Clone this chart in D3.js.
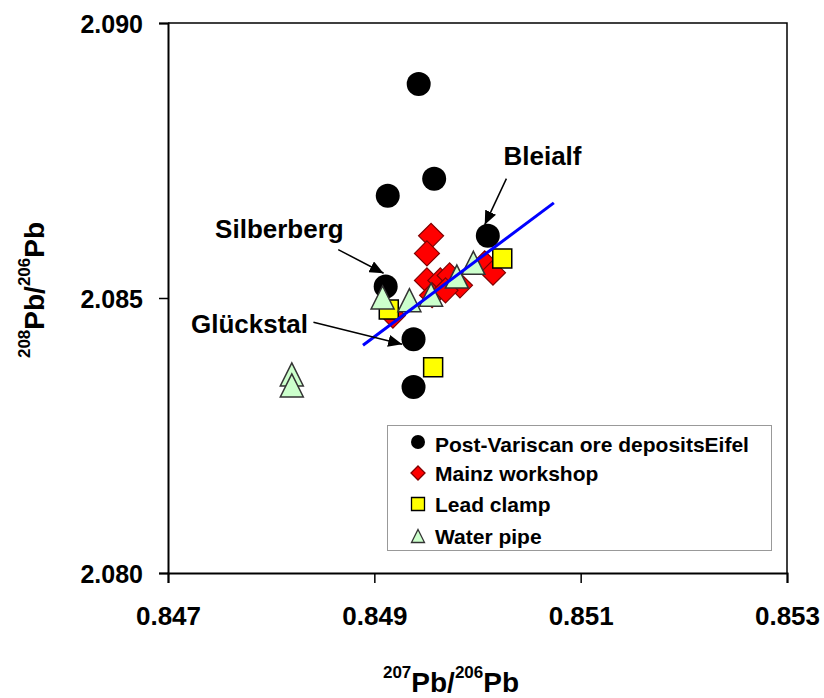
<!DOCTYPE html>
<html>
<head>
<meta charset="utf-8">
<script src="https://cdn.jsdelivr.net/npm/d3@7"></script>
<style>
	body { margin: 0; background: #fff; }
	svg { display: block; font-family: "Liberation Sans", Arial, sans-serif; font-weight: bold; }
</style>
</head>
<body>
<div id="vis"></div>
<script>
const WIDTH = 824;
const HEIGHT = 698;

// axis ticks
const xTicks = [0.847, 0.849, 0.851, 0.853];
const yTicks = [2.080, 2.085, 2.090];

// 207Pb/206Pb and 208Pb/206Pb
const oreX = [0.84943, 0.84913, 0.84958, 0.85010, 0.84911, 0.84938, 0.84938];
const oreY = [2.08889, 2.08686, 2.08717, 2.08613, 2.08521, 2.08425, 2.08338];

const mainzX = [0.84955, 0.84951, 0.84951, 0.84964, 0.84973, 0.84983, 0.85007, 0.85015, 0.84956, 0.84918, 0.84969];
const mainzY = [2.08613, 2.08581, 2.08532, 2.08532, 2.08541, 2.08523, 2.08563, 2.08546, 2.08505, 2.08468, 2.08514];

const clampX = [0.85024, 0.84914, 0.84957];
const clampY = [2.08572, 2.08479, 2.08374];

const pipeX = [0.84908, 0.84934, 0.84955, 0.84980, 0.84996, 0.84820, 0.84820];
const pipeY = [2.08501, 2.08496, 2.08506, 2.08539, 2.08564, 2.08361, 2.08341];

// regression line end points
const lineX = [0.84889, 0.85074];
const lineY = [2.08414, 2.08673];

// labelled deposits: text position and arrow (from -> to)
const labelNames = ["Silberberg", "Glückstal", "Bleialf"];
const labelX = [0.84808, 0.84779, 0.85063];
const labelY = [2.08610, 2.08437, 2.08741];
const arrowX1 = [0.84865, 0.84841, 0.85028];
const arrowY1 = [2.08588, 2.08456, 2.08717];
const arrowX2 = [0.84909, 0.84927, 0.85007];
const arrowY2 = [2.08545, 2.08416, 2.08633];

const seriesNames = ["Post-Variscan ore depositsEifel", "Mainz workshop", "Lead clamp", "Water pipe"];

const x = d3.scaleLinear().domain([0.847, 0.853]).range([168, 787]);
const y = d3.scaleLinear().domain([2.080, 2.090]).range([573, 23]);

const svg = d3.select('#vis').append('svg')
	.attr('width', WIDTH)
	.attr('height', HEIGHT);

// marker shapes, s = overall size
function shapePath(kind, s) {
	const h = s / 2;
	if (kind === 'diamond') return `M0,${-h}L${h},0L0,${h}L${-h},0Z`;
	if (kind === 'square') return `M${-h},${-h}H${h}V${h}H${-h}Z`;
	if (kind === 'triangle') return `M0,${-h}L${h},${h}L${-h},${h}Z`;
	return '';
}

// frame (top and right)
svg.append('path')
	.attr('d', `M${x(0.847)},${y(2.090)}H${x(0.853)}V${y(2.080)}`)
	.attr('fill', 'none')
	.attr('stroke', '#000')
	.attr('stroke-width', 1.5);

// axes
const xAxis = svg.append('g')
	.attr('transform', `translate(0,${y(2.080)})`)
	.call(d3.axisBottom(x).tickValues(xTicks).tickSize(10).tickFormat(d3.format('.3f')));
const yAxis = svg.append('g')
	.attr('transform', `translate(${x(0.847)},0)`)
	.call(d3.axisLeft(y).tickValues(yTicks).tickSize(9).tickFormat(d3.format('.3f')));

[xAxis, yAxis].forEach(a => {
	a.select('.domain').attr('stroke', '#000').attr('stroke-width', 2);
	a.selectAll('.tick line').attr('stroke', '#000').attr('stroke-width', 1.5);
	a.selectAll('.tick text')
		.attr('fill', '#000')
		.style('font-family', '"Liberation Sans", Arial, sans-serif')
		.style('font-weight', 'bold');
});
xAxis.selectAll('.tick text').style('font-size', '26px').attr('y', 34).attr('dy', '0.71em');
yAxis.selectAll('.tick text').style('font-size', '25px').attr('x', -25).attr('dy', '0.36em');

// axis titles
const xt = svg.append('text')
	.attr('x', 451).attr('y', 692)
	.attr('text-anchor', 'middle')
	.style('font-size', '28px');
xt.append('tspan').text('207').style('font-size', '17px').attr('dy', -14);
xt.append('tspan').text('Pb/').attr('dy', 14);
xt.append('tspan').text('206').style('font-size', '17px').attr('dy', -14);
xt.append('tspan').text('Pb').attr('dy', 14);

const yt = svg.append('text')
	.attr('transform', 'translate(44,290) rotate(-90)')
	.attr('text-anchor', 'middle')
	.style('font-size', '28px');
yt.append('tspan').text('208').style('font-size', '17px').attr('dy', -14);
yt.append('tspan').text('Pb/').attr('dy', 14);
yt.append('tspan').text('206').style('font-size', '17px').attr('dy', -14);
yt.append('tspan').text('Pb').attr('dy', 14);

// data points, drawn circles first, triangles last
const ore = oreX.map((v, i) => ({ x: v, y: oreY[i] }));
const mainz = mainzX.map((v, i) => ({ x: v, y: mainzY[i] }));
const clamp = clampX.map((v, i) => ({ x: v, y: clampY[i] }));
const pipe = pipeX.map((v, i) => ({ x: v, y: pipeY[i] }));

svg.append('g').selectAll('circle')
	.data(ore)
	.enter()
	.append('circle')
	.attr('cx', d => x(d.x))
	.attr('cy', d => y(d.y))
	.attr('r', 12)
	.attr('fill', '#000');

function drawShapes(data, kind, size, fill, stroke, sw) {
	svg.append('g').selectAll('path')
		.data(data)
		.enter()
		.append('path')
		.attr('transform', d => `translate(${x(d.x)},${y(d.y)})`)
		.attr('d', shapePath(kind, size))
		.attr('fill', fill)
		.attr('stroke', stroke)
		.attr('stroke-width', sw)
		.attr('stroke-linejoin', 'miter');
}
drawShapes(mainz, 'diamond', 25, '#ff0000', '#800000', 1.2);
drawShapes(clamp, 'square', 19, '#ffff00', '#000', 1.5);
drawShapes(pipe, 'triangle', 23, '#ccffcc', '#333', 1.5);

// blue regression line
svg.append('line')
	.attr('x1', x(lineX[0])).attr('y1', y(lineY[0]))
	.attr('x2', x(lineX[1])).attr('y2', y(lineY[1]))
	.attr('stroke', '#0000ff')
	.attr('stroke-width', 3);

// annotations
svg.append('defs').append('marker')
	.attr('id', 'head')
	.attr('viewBox', '0 0 14 12')
	.attr('refX', 14).attr('refY', 6)
	.attr('markerWidth', 14).attr('markerHeight', 12)
	.attr('markerUnits', 'userSpaceOnUse')
	.attr('orient', 'auto')
	.append('path')
	.attr('d', 'M0,0L14,6L0,12Z')
	.attr('fill', '#000');

labelNames.forEach((name, i) => {
	svg.append('text')
		.attr('x', x(labelX[i]))
		.attr('y', y(labelY[i]))
		.attr('text-anchor', 'middle')
		.style('font-size', '26px')
		.text(name);
	svg.append('line')
		.attr('x1', x(arrowX1[i])).attr('y1', y(arrowY1[i]))
		.attr('x2', x(arrowX2[i])).attr('y2', y(arrowY2[i]))
		.attr('stroke', '#000')
		.attr('stroke-width', 1.5)
		.attr('marker-end', 'url(#head)');
});

// legend
const legend = svg.append('g');
legend.append('rect')
	.attr('x', 387.5).attr('y', 425.5)
	.attr('width', 384).attr('height', 125)
	.attr('fill', '#fff')
	.attr('stroke', '#999')
	.attr('stroke-width', 1);

const rowY = [444, 473, 504, 536];
const legendMarks = [
	{ kind: 'circle', fill: '#000', stroke: 'none' },
	{ kind: 'diamond', size: 14, fill: '#ff0000', stroke: '#800000' },
	{ kind: 'square', size: 13, fill: '#ffff00', stroke: '#000' },
	{ kind: 'triangle', size: 13, fill: '#ccffcc', stroke: '#333' }
];
seriesNames.forEach((name, i) => {
	const m = legendMarks[i];
	if (m.kind === 'circle') {
		legend.append('circle').attr('cx', 418).attr('cy', rowY[i] - 2).attr('r', 7).attr('fill', m.fill);
	} else {
		legend.append('path')
			.attr('transform', `translate(418,${rowY[i]})`)
			.attr('d', shapePath(m.kind, m.size))
			.attr('fill', m.fill)
			.attr('stroke', m.stroke)
			.attr('stroke-width', 1.3);
	}
	legend.append('text')
		.attr('x', 435)
		.attr('y', rowY[i])
		.attr('dy', '0.36em')
		.style('font-size', '21px')
		.text(name);
});
</script>
</body>
</html>
